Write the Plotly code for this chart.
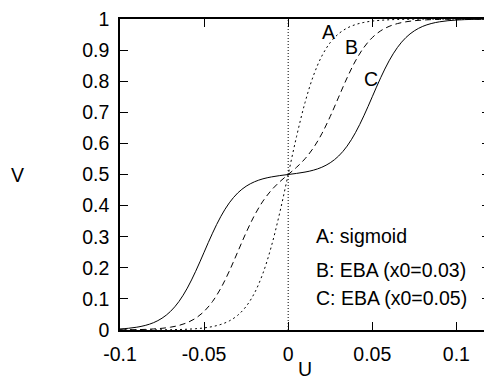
import plotly.graph_objects as go

u_values = [-0.1, -0.095, -0.09, -0.085, -0.08, -0.075, -0.07, -0.065, -0.06, -0.055,
            -0.05, -0.045, -0.04, -0.035, -0.03, -0.025, -0.02, -0.015, -0.01, -0.005,
            0.0, 0.005, 0.01, 0.015, 0.02, 0.025, 0.03, 0.035, 0.04, 0.045,
            0.05, 0.055, 0.06, 0.065, 0.07, 0.075, 0.08, 0.085, 0.09, 0.095,
            0.1, 0.105, 0.11, 0.115, 0.12]

v_sigmoid = [0.0000, 0.0001, 0.0001, 0.0002, 0.0003, 0.0006, 0.0009, 0.0015, 0.0025, 0.0041,
             0.0067, 0.0110, 0.0180, 0.0293, 0.0474, 0.0759, 0.1192, 0.1824, 0.2689, 0.3775,
             0.5, 0.6225, 0.7311, 0.8176, 0.8808, 0.9241, 0.9526, 0.9707, 0.9820, 0.9890,
             0.9933, 0.9959, 0.9975, 0.9985, 0.9991, 0.9994, 0.9997, 0.9998, 0.9999, 0.9999,
             1.0, 1.0, 1.0, 1.0, 1.0]

v_eba_003 = [0.0005, 0.0007, 0.0012, 0.0020, 0.0034, 0.0055, 0.0090, 0.0147, 0.0238, 0.0380,
             0.0598, 0.0915, 0.1349, 0.1895, 0.2512, 0.3133, 0.3689, 0.4143, 0.4494, 0.4767,
             0.5, 0.5233, 0.5506, 0.5857, 0.6311, 0.6867, 0.7488, 0.8105, 0.8651, 0.9085,
             0.9402, 0.9620, 0.9762, 0.9853, 0.9910, 0.9945, 0.9966, 0.9980, 0.9988, 0.9993,
             0.9995, 0.9997, 0.9998, 0.9999, 0.9999]

v_eba_005 = [0.0034, 0.0055, 0.0090, 0.0147, 0.0237, 0.0380, 0.0596, 0.0912, 0.1345, 0.1888,
             0.2500, 0.3113, 0.3656, 0.4089, 0.4406, 0.4623, 0.4767, 0.4861, 0.4922, 0.4965,
             0.5, 0.5035, 0.5078, 0.5139, 0.5233, 0.5377, 0.5594, 0.5911, 0.6344, 0.6887,
             0.75, 0.8112, 0.8655, 0.9088, 0.9404, 0.9620, 0.9763, 0.9853, 0.9910, 0.9945,
             0.9966, 0.9980, 0.9988, 0.9992, 0.9995]

x_tick_vals = [-0.1, -0.05, 0, 0.05, 0.1]
x_tick_text = ["-0.1", "-0.05", "0", "0.05", "0.1"]
y_tick_vals = [0, 0.1, 0.2, 0.3, 0.4, 0.5, 0.6, 0.7, 0.8, 0.9, 1.0]
y_tick_text = ["0", "0.1", "0.2", "0.3", "0.4", "0.5", "0.6", "0.7", "0.8", "0.9", "1"]

curve_labels = ["A", "B", "C"]
curve_label_x = [0.0237, 0.0379, 0.0493]
curve_label_y = [0.957, 0.909, 0.806]

key_texts = ["A: sigmoid", "B: EBA (x0=0.03)", "C: EBA (x0=0.05)"]
key_y = [0.302, 0.194, 0.102]
key_x = 0.0152

FONT = "Liberation Sans, Arial, Helvetica, sans-serif"
FS = 19.5

fig = go.Figure()
line_styles = [(v_sigmoid, "2px,3px"), (v_eba_003, "6px,4px"), (v_eba_005, "solid")]
for vals, dash in line_styles:
    fig.add_trace(go.Scatter(x=u_values, y=vals, mode="lines",
                             line=dict(color="black", width=1, dash=dash, shape="spline"),
                             showlegend=False, hoverinfo="skip"))

fig.add_shape(type="line", x0=0, x1=0, y0=0, y1=1, xref="x", yref="y",
              line=dict(color="black", width=1, dash="1px,2px"), layer="below")

for t, x, y in zip(curve_labels, curve_label_x, curve_label_y):
    fig.add_annotation(x=x, y=y, text=t, showarrow=False, xanchor="center", yanchor="middle",
                       font=dict(size=FS, color="black", family=FONT))

for t, y in zip(key_texts, key_y):
    fig.add_annotation(x=key_x, y=y, text=t, showarrow=False, xanchor="left", yanchor="middle",
                       font=dict(size=FS, color="black", family=FONT))

fig.add_annotation(x=0.5, y=-0.127, xref="paper", yref="paper", text="U", showarrow=False,
                   xanchor="center", yanchor="middle", font=dict(size=FS, color="black", family=FONT))
fig.add_annotation(x=-0.277, y=0.5, xref="paper", yref="paper", text="V", showarrow=False,
                   xanchor="center", yanchor="middle", font=dict(size=FS, color="black", family=FONT))

axis_common = dict(showgrid=False, zeroline=False, showline=True, linecolor="black", linewidth=1.5,
                   ticks="inside", ticklen=8, tickwidth=1, tickcolor="black", mirror="allticks",
                   ticklabeloverflow="allow",
                   tickfont=dict(size=FS, color="black", family=FONT))

fig.update_xaxes(range=[-0.1, 0.12], tickvals=x_tick_vals, ticktext=x_tick_text,
                 ticklabelstandoff=6, **axis_common)
fig.update_yaxes(range=[0, 1], tickvals=y_tick_vals, ticktext=y_tick_text,
                 ticklabelstandoff=5, **axis_common)

# the page body has an 8px margin, so the figure is offset by 8px inside the window
fig.update_layout(width=484, height=371, margin=dict(l=112, r=0, t=7, b=49),
                  plot_bgcolor="white", paper_bgcolor="white",
                  font=dict(family=FONT, color="black"))

fig.write_html("out.html")
